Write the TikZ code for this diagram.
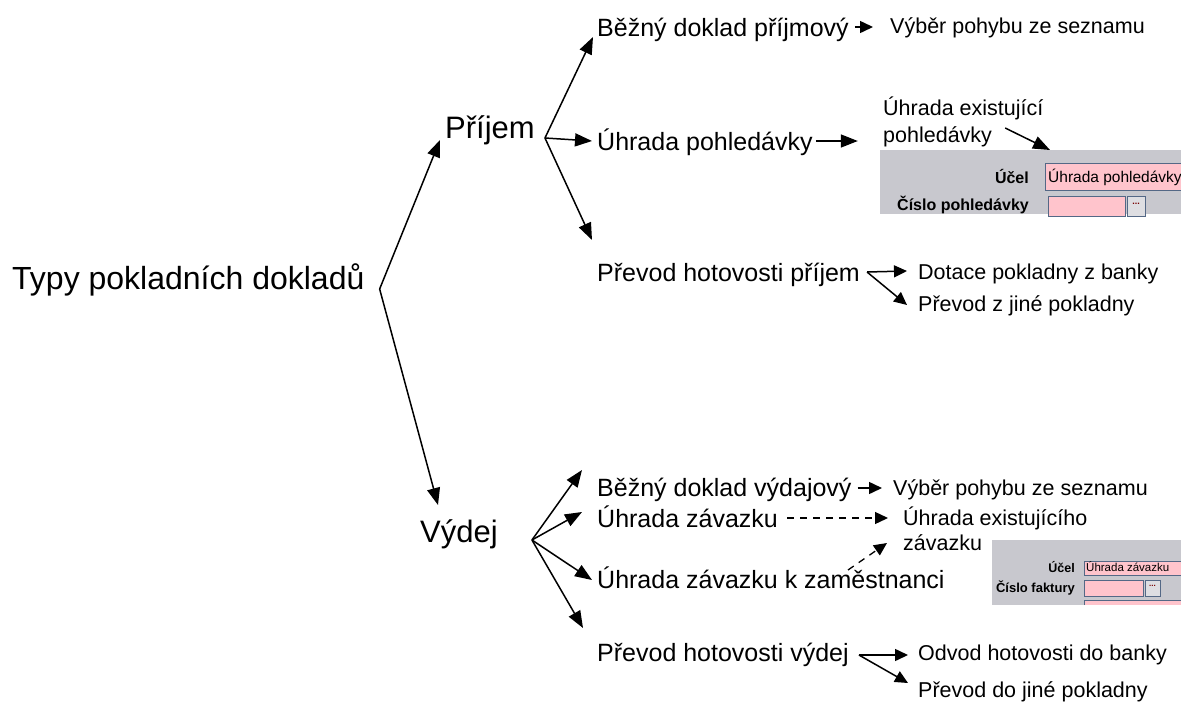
\documentclass[tikz,border=0pt]{standalone}
\usepackage{fontspec}
\setmainfont{Liberation Sans}
\usetikzlibrary{arrows.meta,calc,positioning}
\definecolor{formgray}{RGB}{200,200,206}
\definecolor{fieldpink}{RGB}{255,196,204}
\definecolor{fieldline}{RGB}{84,104,134}
\definecolor{btngray}{RGB}{222,222,226}
\definecolor{dotred}{RGB}{120,0,0}

\begin{document}
\begin{tikzpicture}[x=1pt,y=-1pt,
	  every node/.style={inner sep=0pt,anchor=base west},
	  root/.style={font=\fontsize{32}{38}\selectfont},
	  branch/.style={font=\fontsize{31}{36}\selectfont},
	  kind/.style={font=\fontsize{25}{30}\selectfont},
	  note/.style={font=\fontsize{21.5}{26}\selectfont},
	  formlabel/.style={anchor=base east,font=\bfseries\fontsize{#1}{#1}\selectfont},
	  formtext/.style={font=\fontsize{#1}{#1}\selectfont},
	  formbox/.style={fill=formgray,anchor=north west},
	  field/.style={fill=fieldpink,draw=fieldline,line width=1pt},
	  button/.style={fill=btngray,draw=fieldline,line width=0.8pt},
	  arr/.style={-{Triangle[length=17pt,width=13pt]},line width=1.5pt},
	  arrs/.style={-{Triangle[length=13pt,width=12pt]},line width=1.5pt},
	  dasharr/.style={arrs,line width=1.3pt,dash pattern=on 7pt off 6pt}]

	  \fill[white] (0,0) rectangle (1181,704);
	  \useasboundingbox (0,0) rectangle (1181,704);

	  % tree
	  \node[root] (typy) at (12,289) {Typy pokladních dokladů};
	  \node[branch] (prijem) at (445,138) {Příjem};
	  \node[branch] (vydej) at (420,542) {Výdej};
	  \coordinate (rootfan) at ([xshift=15pt]typy.base east);
	  \coordinate (prijemfan) at ([xshift=10pt]prijem.base east);
	  \coordinate (vydejfan) at ([xshift=34pt,yshift=2pt]vydej.base east);

	  \draw[arr] (rootfan) -- ([xshift=-5pt,yshift=-2pt]prijem.base west);
	  \draw[arr] (rootfan) -- ([xshift=18pt,yshift=37pt]vydej.base west);

	  % prijem
	  \node[kind] (bezny1) at (597,36) {Běžný doklad příjmový};
	  \node[kind] (uhrada1) at (597,150) {Úhrada pohledávky};
	  \node[kind] (prevod1) at (597,281) {Převod hotovosti příjem};
	  \draw[arr] (prijemfan) -- ([xshift=-4pt,yshift=-1pt]bezny1.base west);
	  \draw[arr] (prijemfan) -- ([xshift=-5pt,yshift=9pt]uhrada1.base west);
	  \draw[arr] (prijemfan) -- ([xshift=-5pt,yshift=41pt]prevod1.base west);

	  \node[note] (vyber1) at (890,34) {Výběr pohybu ze seznamu};
	  \draw[arrs] ([xshift=6pt,yshift=9pt]bezny1.base east) -- ([xshift=-17pt,yshift=7pt]vyber1.base west);

	  \node[note] (exist1a) at (883,115) {Úhrada existující};
	  \node[note] (exist1b) at (883,142) {pohledávky};
	  \coordinate (uhrada1end) at ([xshift=45pt,yshift=9pt]uhrada1.base east);
	  \draw[arr] ([xshift=3pt,yshift=9pt]uhrada1.base east) -- (uhrada1end);

	  \node[note] (dotace) at (918,279) {Dotace pokladny z banky};
	  \node[note] (prevodz) at (918,311) {Převod z jiné pokladny};
	  \draw[arrs] ([xshift=7pt,yshift=9pt]prevod1.base east) -- ([xshift=-11pt,yshift=8pt]dotace.base west);
	  \draw[arrs] ([xshift=7pt,yshift=9pt]prevod1.base east) -- ([xshift=-11pt,yshift=6pt]prevodz.base west);

	  % form pohledavka
	  \node[formbox,minimum width=301pt,minimum height=64pt] (form1) at (880,150) {};
	  \draw[field] (1045,163) rectangle (1190,190);
	  \draw[field] (1048,196) rectangle (1125,216);
	  \draw[button] (1127,196) rectangle (1145,216);
	  \node[formlabel=16] (ucel1) at (1029,183) {Účel};
	  \node[formlabel=16] (cislo1) at (1029,210) {Číslo pohledávky};
	  \node[formtext=15.5] (ucelval1) at (1048,182) {Úhrada pohledávky};
	  \node[anchor=center,text=dotred,font=\bfseries\fontsize{9}{9}\selectfont] (dots1) at (1136,204) {...};
	  \draw[arr] ([xshift=13pt,yshift=14pt]exist1b.base east) -- ([xshift=170pt]form1.north west);

	  % vydej
	  \node[kind] (bezny2) at (597,496) {Běžný doklad výdajový};
	  \node[kind] (uhrada2) at (597,527) {Úhrada závazku};
	  \node[kind] (uhrada3) at (597,588) {Úhrada závazku k zaměstnanci};
	  \node[kind] (prevod2) at (597,661) {Převod hotovosti výdej};
	  \draw[arr] (vydejfan) -- ([xshift=-15pt,yshift=26pt]bezny2.base west);
	  \draw[arr] (vydejfan) -- ([xshift=-15pt,yshift=15pt]uhrada2.base west);
	  \draw[arr] (vydejfan) -- ([xshift=-5pt,yshift=8pt]uhrada3.base west);
	  \draw[arr] (vydejfan) -- ([xshift=-14pt,yshift=33pt]prevod2.base west);

	  \node[note] (vyber2) at (893,495) {Výběr pohybu ze seznamu};
	  \draw[arrs] ([xshift=6pt,yshift=8pt]bezny2.base east) -- ([xshift=-11pt,yshift=7pt]vyber2.base west);

	  \node[note] (exist2a) at (903,525) {Úhrada existujícího};
	  \node[note] (exist2b) at (903,550) {závazku};
	  \draw[dasharr] ([xshift=9pt,yshift=9pt]uhrada2.base east) -- ([xshift=-15pt,yshift=7pt]exist2a.base west);
	  \draw[dasharr] ([xshift=251pt,yshift=18pt]uhrada3.base west) -- ([xshift=-16pt,yshift=7pt]exist2b.base west);

	  \node[note] (odvod) at (918,660) {Odvod hotovosti do banky};
	  \node[note] (prevodd) at (918,697) {Převod do jiné pokladny};
	  \draw[arrs] ([xshift=10pt,yshift=6pt]prevod2.base east) -- ([xshift=-10pt,yshift=5pt]odvod.base west);
	  \draw[arrs] ([xshift=10pt,yshift=6pt]prevod2.base east) -- ([xshift=-10pt,yshift=14pt]prevodd.base west);

	  % form zavazek
	  \node[formbox,minimum width=189pt,minimum height=65pt] (form2) at (992,540) {};
	  \draw[field] (1084,561) rectangle (1190,575);
	  \draw[field] (1084,580) rectangle (1143,596);
	  \draw[button] (1145,580) rectangle (1160,596);
	  \fill[fieldpink] (1084,600) rectangle (1190,605);
	  \draw[fieldline,line width=1pt] (1084,605) -- (1084,600) -- (1190,600);
	  \node[formlabel=12.5] (ucel2) at (1075,572) {Účel};
	  \node[formlabel=13] (cislo2) at (1075,592) {Číslo faktury};
	  \node[formtext=11.5] (ucelval2) at (1086,571) {Úhrada závazku};
	  \node[anchor=center,text=dotred,font=\bfseries\fontsize{8}{8}\selectfont] (dots2) at (1152.5,586) {...};

\end{tikzpicture}
\end{document}
